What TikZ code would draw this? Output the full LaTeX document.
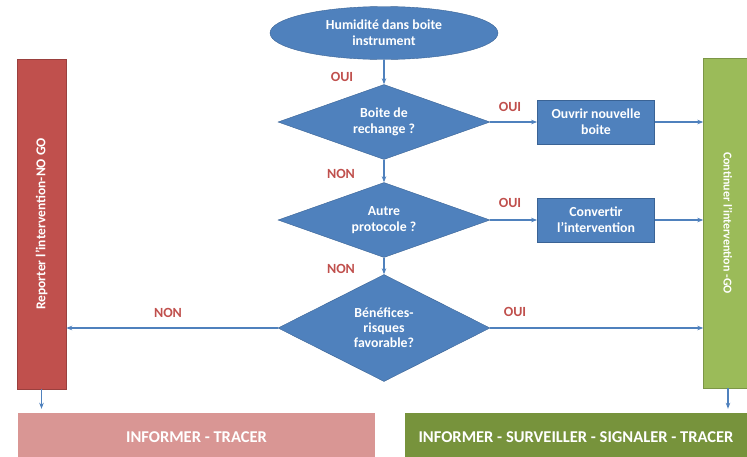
\documentclass[tikz,border=0pt]{standalone}
\usepackage{fontspec}
\setmainfont{Carlito}
\usetikzlibrary{shapes.geometric,arrows.meta}
\definecolor{bleu}{HTML}{4F81BD}
\definecolor{bleubord}{HTML}{3A6395}
\definecolor{rouge}{HTML}{C0504D}
\definecolor{rose}{HTML}{D99694}
\definecolor{vert}{HTML}{9BBB59}
\definecolor{vertfonce}{HTML}{77933C}
\begin{document}
\begin{tikzpicture}[x=1pt,y=-1pt,
    font=\bfseries\fontsize{13.8}{15.8}\selectfont,
    fleche/.style={draw=bleu, line width=1.1pt, -{Stealth[length=6pt,width=4.5pt]}},
    decision/.style={diamond, aspect=2.8, draw=bleubord, fill=bleu, text=white,
        align=center, inner sep=0pt, minimum width=212, minimum height=75},
    action/.style={rectangle, draw=bleubord, line width=0.8pt, fill=bleu, text=white,
        align=center, minimum width=117, minimum height=44},
    barre/.style={rectangle, draw=#1!80!black, fill=#1, text=white,
        minimum width=49, minimum height=330, inner sep=0pt},
    bandeau/.style={rectangle, fill=#1, text=white, minimum height=48,
        font=\bfseries\fontsize{16.5}{18}\selectfont},
    etiquette/.style={text=rouge, font=\bfseries\fontsize{14}{16}\selectfont}]
    \useasboundingbox (0,0) rectangle (747,456);
    % la question de depart et les trois tests
    \node[ellipse, draw=bleubord, fill=bleu, text=white, align=center,
        minimum width=228, minimum height=53] (humid) at (384,33)
        {Humidité dans boite\\instrument};
    \node[decision] (rechange) at (384,122) {Boite de\\rechange ?};
    \node[decision] (protocole) at (384,220) {Autre\\protocole ?};
    \node[decision, aspect=2, minimum height=107,
        font=\bfseries\fontsize{13.8}{15}\selectfont] (benef) at (384,328)
        {Bénéfices-\\risques\\favorable?};
    \node[action] (ouvrir) at (596,122) {Ouvrir nouvelle\\boite};
    \node[action] (convertir) at (596,220) {Convertir\\l'intervention};
    % NO GO / GO
    \node[barre=rouge, font=\bfseries\fontsize{13.5}{15}\selectfont] (nogo) at (41.5,224)
        {\rotatebox{90}{Reporter l'intervention-NO GO}};
    \node[barre=vert, font=\bfseries\fontsize{12}{14}\selectfont] (go) at (728,223)
        {\rotatebox{-90}{Continuer l'intervention -GO}};
    \node[bandeau=rose, minimum width=357] (tracer) at (196.5,437) {INFORMER - TRACER};
    \node[bandeau=vertfonce, minimum width=342] (suivi) at (576,437)
        {INFORMER - SURVEILLER - SIGNALER - TRACER};
    \draw[fleche] (humid) -- (rechange);
    \draw[fleche] (rechange) -- (protocole);
    \draw[fleche] (protocole) -- (benef);
    \draw[fleche] (rechange) -- (ouvrir);
    \draw[fleche] (ouvrir) -- (ouvrir -| go.west);
    \draw[fleche] (protocole) -- (convertir);
    \draw[fleche] (convertir) -- (convertir -| go.west);
    \draw[fleche] (benef) -- (benef -| go.west);
    \draw[fleche] (benef) -- (benef -| nogo.east);
    \draw[fleche, shorten >=4pt] (nogo.south) -- (nogo.south |- tracer.north);
    \draw[fleche, shorten >=4pt] (go.south) -- (go.south |- suivi.north);
    % reponses
    \node[etiquette] (oui1) at (342,77) {OUI};
    \node[etiquette] (non1) at (341,174) {NON};
    \node[etiquette] (non2) at (341,269) {NON};
    \node[etiquette] (oui2) at (510,107) {OUI};
    \node[etiquette] (oui3) at (510,203) {OUI};
    \node[etiquette] (non3) at (168,313) {NON};
    \node[etiquette] (oui4) at (515,312) {OUI};
\end{tikzpicture}
\end{document}
